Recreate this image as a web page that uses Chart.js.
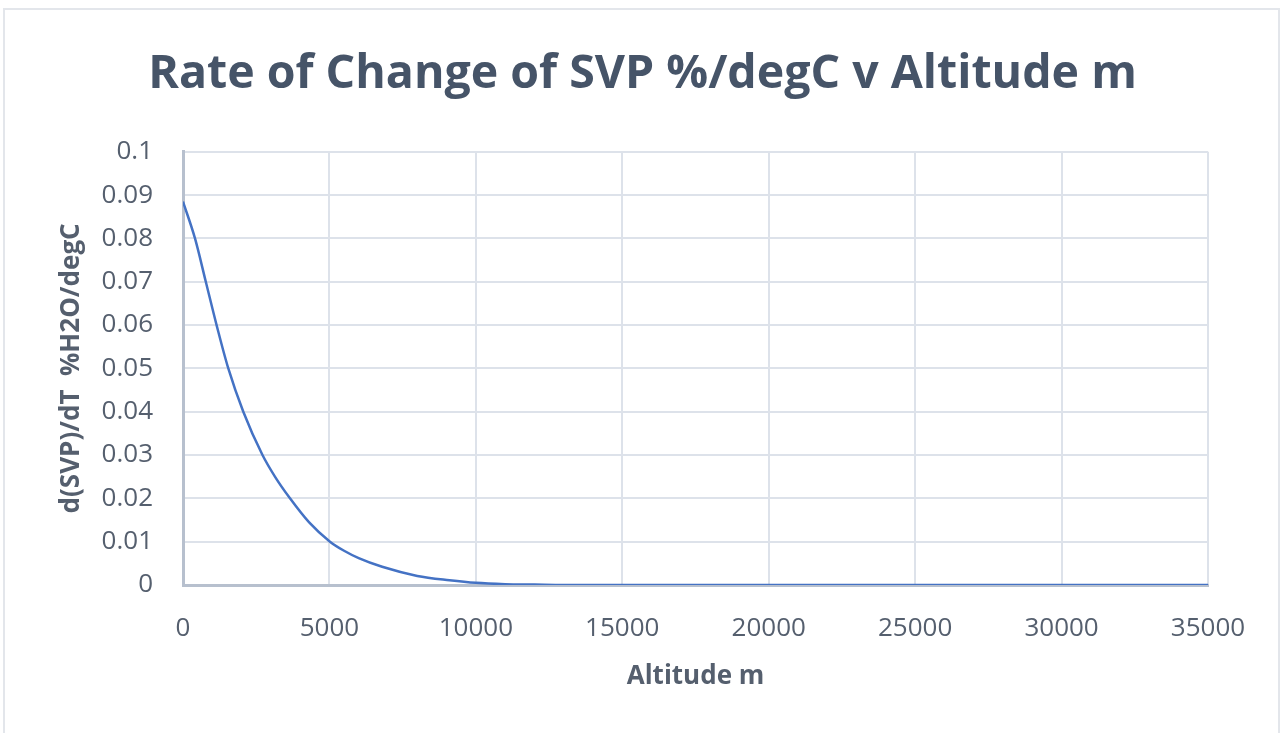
<!DOCTYPE html>
<html>
<head>
<meta charset="utf-8">
<script src="https://cdn.jsdelivr.net/npm/chart.js@4/dist/chart.umd.min.js"></script>
<style>
  html, body { margin: 0; padding: 0; background: #fff; overflow: hidden; }
  #frame { position: absolute; left: 3px; top: 8px; width: 1277px; height: 730px; border: 2px solid #E3E6EB; box-sizing: border-box; }
  #wrap { position: absolute; left: 0; top: 0; width: 1285px; height: 733px; }
</style>
</head>
<body>
<div id="frame"></div>
<div id="wrap"><canvas id="svpChart"></canvas></div>
<script>
// altitude (m) and d(SVP)/dT (mostly where the curve crosses gridlines)
const altitudes = [0, 410, 779, 1147, 1547, 2059, 2714, 3150, 3653, 4300, 5019, 5500, 6000, 6800, 8000, 9100, 10000, 11000, 12000, 13000, 20000, 25000, 30000, 35000];
const rates = [0.0885, 0.08, 0.07, 0.06, 0.05, 0.04, 0.03, 0.0249, 0.02, 0.0145, 0.01, 0.0079, 0.0062, 0.0042, 0.0021, 0.0011, 0.0005, 0.0002, 0.0001, 0, 0, 0, 0, 0];
const xTicks = [0, 5000, 10000, 15000, 20000, 25000, 30000, 35000];
const yTicks = [0, 0.01, 0.02, 0.03, 0.04, 0.05, 0.06, 0.07, 0.08, 0.09, 0.1];

const points = altitudes.map((a, i) => ({ x: a, y: rates[i] }));

const tickColor = '#555F6E';
const gridColor = '#DDE2EA';
const axisColor = '#B7C0CE';

document.addEventListener('DOMContentLoaded', function() {
  const ctx = document.getElementById('svpChart');
  new Chart(ctx.getContext('2d'), {
    type: 'scatter',
    data: {
      datasets: [{
        data: points,
        showLine: true,
        borderColor: '#4472C4',
        borderWidth: 2.5,
        pointRadius: 0,
        cubicInterpolationMode: 'monotone'
      }]
    },
    options: {
      responsive: true,
      maintainAspectRatio: false,
      animation: false,
      layout: { padding: 0 },
      plugins: {
        legend: { display: false },
        tooltip: { enabled: false },
        title: {
          display: true,
          text: 'Rate of Change of SVP %/degC v Altitude m',
          color: '#465468',
          font: { family: 'Open Sans', size: 46.5, weight: 'bold' },
          padding: { top: 47, bottom: 49 }
        }
      },
      scales: {
        x: {
          type: 'linear',
          min: 0,
          max: 35000,
          afterBuildTicks: s => { s.ticks = xTicks.map(v => ({ value: v })); },
          afterFit: s => { s.height = 148; },
          ticks: {
            color: tickColor,
            font: { family: 'Open Sans', size: 26 },
            padding: 28,
            maxRotation: 0,
            callback: v => String(v)
          },
          grid: { color: gridColor, lineWidth: 2, drawTicks: false },
          border: { color: axisColor, width: 3 },
          title: {
            display: true,
            text: 'Altitude m',
            color: tickColor,
            font: { family: 'Open Sans', size: 26, weight: 'bold' },
            padding: { top: 0, bottom: 41 }
          }
        },
        y: {
          min: 0,
          max: 0.1,
          afterBuildTicks: s => { s.ticks = yTicks.map(v => ({ value: v })); },
          afterFit: s => { s.width = 183; },
          ticks: {
            color: tickColor,
            font: { family: 'Open Sans', size: 26 },
            padding: 30,
            callback: v => String(+v.toFixed(2))
          },
          grid: { color: gridColor, lineWidth: 2, drawTicks: false },
          border: { color: axisColor, width: 3 },
          title: {
            display: true,
            text: 'd(SVP)/dT  %H2O/degC',
            color: tickColor,
            font: { family: 'Open Sans', size: 26, weight: 'bold' },
            padding: { top: 56, bottom: 0 }
          }
        },
        // empty right-hand axis, only there to leave the blank strip right of the plot
        yRight: {
          position: 'right',
          min: 0,
          max: 0.1,
          afterFit: s => { s.width = 77; },
          ticks: { display: false },
          grid: { display: false },
          border: { display: false }
        }
      }
    }
  });
});
</script>
</body>
</html>
